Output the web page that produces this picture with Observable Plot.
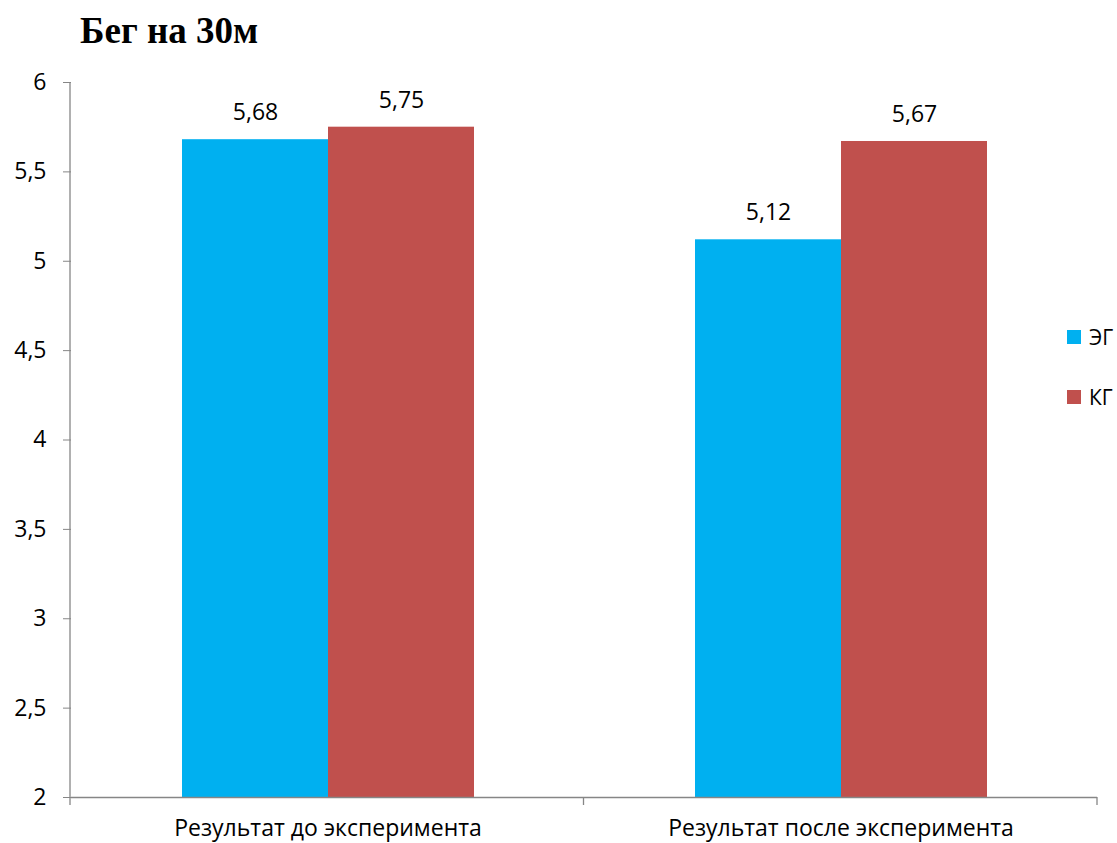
<!DOCTYPE html>
<html>
<head>
<meta charset="utf-8">
<script src="https://cdn.jsdelivr.net/npm/d3@7"></script>
<script src="https://cdn.jsdelivr.net/npm/@observablehq/plot@0.6"></script>
<style>
  html, body { margin: 0; padding: 0; background: #fff; }
  #wrap { position: relative; width: 1117px; height: 843px; overflow: hidden; font-family: "Open Sans", sans-serif; }
  #title { height: 58px; box-sizing: border-box; padding: 12px 0 0 80px; font-family: "Liberation Serif", "Times New Roman", serif; font-weight: bold; font-size: 37px; line-height: 37px; color: #000; }
  #chart svg { display: block; }
  .leg { position: absolute; display: flex; align-items: center; font-size: 21px; color: #000; }
  .leg .sw { width: 14px; height: 14px; margin-right: 8px; }
</style>
</head>
<body>
<div id="wrap">
  <div id="title">Бег на 30м</div>
  <div id="chart"></div>
</div>
<script>
// ---- data ----
const categories = ["Результат до эксперимента", "Результат после эксперимента"];
const groups = ["ЭГ", "КГ"];
const groupColors = ["#00B0F0", "#C0504D"];
const valuesEG = [5.68, 5.12];
const valuesKG = [5.75, 5.67];
const yTicks = [2, 2.5, 3, 3.5, 4, 4.5, 5, 5.5, 6];

const rows = [];
categories.forEach((c, i) => {
  rows.push({cat: c, group: groups[0], value: valuesEG[i]});
  rows.push({cat: c, group: groups[1], value: valuesKG[i]});
});
const fmt = v => String(v).replace(".", ",");
const axisColor = "#868686";

const W = 1117, H = 785;
const chart = Plot.plot({
  width: W,
  height: H,
  marginLeft: 70,
  marginRight: 20,
  marginTop: 24,
  marginBottom: 46,
  style: {fontFamily: "Open Sans, sans-serif", fontSize: "23px", color: "#000", background: "#fff", overflow: "visible"},
  fx: {domain: categories, paddingInner: 0, paddingOuter: 0, label: null, tickSize: 0, tickPadding: 22, axis: "bottom"},
  x: {domain: groups, paddingInner: 0, paddingOuter: 0.75, axis: null},
  y: {domain: [2, 6], ticks: yTicks, tickFormat: fmt, tickSize: 8, tickPadding: 17, label: null},
  color: {domain: groups, range: groupColors},
  marks: [
    Plot.barY(rows, {fx: "cat", x: "group", y1: 2, y2: "value", fill: "group"}),
    Plot.ruleY([2], {stroke: axisColor, strokeWidth: 1.3}),
    Plot.text(rows, {fx: "cat", x: "group", y: "value", text: d => fmt(d.value), dy: -27, lineAnchor: "middle", fontSize: 23, fill: "#000"})
  ]
});

// axis styling & decorations
const svg = d3.select(chart);
svg.selectAll("[aria-label='y-axis tick'] path, [aria-label='y-axis tick']").attr("stroke", axisColor);
const ys = chart.scale("y");
const yScale = d3.scaleLinear(ys.domain, ys.range);
const fxs = chart.scale("fx");
const fxRange = fxs.range || [70, W - 20];
const left = fxRange[0], right = fxRange[1];
const step = (right - left) / categories.length;
const g = svg.append("g").attr("stroke", axisColor).attr("stroke-width", 1.3);
g.append("line").attr("x1", left).attr("x2", left).attr("y1", yScale(6)).attr("y2", yScale(2));
for (let i = 0; i <= categories.length; i++) {
  const x = left + i * step;
  g.append("line").attr("x1", x).attr("x2", x).attr("y1", yScale(2)).attr("y2", yScale(2) + 8);
}
document.getElementById("chart").appendChild(chart);

// legend
const wrap = document.getElementById("wrap");
groups.forEach((gname, i) => {
  const d = document.createElement("div");
  d.className = "leg";
  d.style.left = "1067px";
  d.style.top = (323 + i * 60) + "px";
  d.innerHTML = `<div class="sw" style="background:${groupColors[i]}"></div><span>${gname}</span>`;
  wrap.appendChild(d);
});
</script>
</body>
</html>
